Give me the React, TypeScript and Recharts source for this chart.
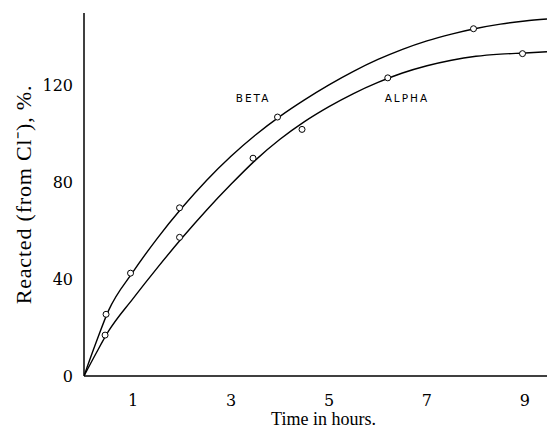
import { ComposedChart, Line, Scatter, XAxis, YAxis, Label, ReferenceDot } from "recharts";

// smooth curves, every half hour
const curveHours = [0, 0.25, 0.5, 1, 1.5, 2, 2.5, 3, 3.5, 4, 4.5, 5, 5.5, 6, 6.5, 7, 7.5, 8, 8.5, 9, 9.45];
const betaCurve = [0, 14, 27, 43, 57, 69.5, 80.8, 90.8, 99.6, 107.3, 114.1, 120.3, 125.9, 130.8, 135, 138.5, 141.3, 143.6, 145.4, 146.7, 147.5];
const alphaCurve = [0, 9.5, 18.5, 32, 44.8, 57, 68.5, 79.2, 89.2, 97.8, 105.1, 111.3, 116.7, 121.3, 125.2, 128.2, 130.5, 132.1, 133, 133.5, 134];

// measured points
const betaHours = [0.45, 0.95, 1.95, 3.95, 7.95];
const betaValues = [25.5, 42.5, 69.5, 107, 143.5];
const alphaHours = [0.43, 1.95, 3.45, 4.45, 6.2, 8.95];
const alphaValues = [16.9, 57.3, 90, 101.9, 123.2, 133.2];

const xTicks = [1, 3, 5, 7, 9];
const yTicks = [0, 40, 80, 120];

const toRows = (xs: number[], ys: number[]) => xs.map((x, i) => ({ x, y: ys[i] }));

const tickStyle = { fontFamily: "DejaVu Serif", fontSize: 16, fill: "#000" };
const tagStyle = { fontFamily: "DejaVu Sans", fontSize: 10.5, letterSpacing: 2, fill: "#000" };

const OpenDot = (props: any) => (
  <circle cx={props.cx} cy={props.cy} r={3} fill="#fff" stroke="#000" strokeWidth={1} />
);

export default function App() {
  return (
    <div style={{ position: "absolute", left: 0, top: 0, background: "#fff" }}>
      <ComposedChart width={547} height={433} margin={{ top: 13, right: 0, left: 0, bottom: 0 }}>
        <XAxis
          type="number"
          dataKey="x"
          domain={[0, 9.45]}
          ticks={xTicks}
          allowDataOverflow
          height={57}
          stroke="#000"
          strokeWidth={1.6}
          tickLine={false}
          tickSize={6}
          tickMargin={13}
          tick={tickStyle}
        >
          <Label
            value="Time in hours."
            position="insideBottom"
            offset={8}
            dx={8}
            style={{ fontFamily: "Liberation Serif", fontSize: 18, fill: "#000" }}
          />
        </XAxis>
        <YAxis
          type="number"
          dataKey="y"
          domain={[0, 150]}
          ticks={yTicks}
          allowDataOverflow
          width={84}
          stroke="#000"
          strokeWidth={1.5}
          tickLine={false}
          tickSize={6}
          tickMargin={5}
          tick={tickStyle}
        >
          <Label
            value="Reacted (from Cl⁻), %."
            angle={-90}
            position="insideLeft"
            offset={23}
            style={{ fontFamily: "Liberation Serif", fontSize: 22, letterSpacing: 0.8, fill: "#000", textAnchor: "middle" }}
          />
        </YAxis>
        <Line
          data={toRows(curveHours, betaCurve)}
          dataKey="y"
          type="monotone"
          stroke="#000"
          strokeWidth={1.4}
          dot={false}
          activeDot={false}
          isAnimationActive={false}
        />
        <Line
          data={toRows(curveHours, alphaCurve)}
          dataKey="y"
          type="monotone"
          stroke="#000"
          strokeWidth={1.4}
          dot={false}
          activeDot={false}
          isAnimationActive={false}
        />
        <Scatter data={toRows(betaHours, betaValues)} dataKey="y" shape={OpenDot} isAnimationActive={false} />
        <Scatter data={toRows(alphaHours, alphaValues)} dataKey="y" shape={OpenDot} isAnimationActive={false} />
        <ReferenceDot x={3.45} y={114.9} r={1} fill="none" stroke="none" label={{ value: "BETA", style: tagStyle }} />
        <ReferenceDot x={6.59} y={114.9} r={1} fill="none" stroke="none" label={{ value: "ALPHA", style: tagStyle }} />
      </ComposedChart>
    </div>
  );
}
